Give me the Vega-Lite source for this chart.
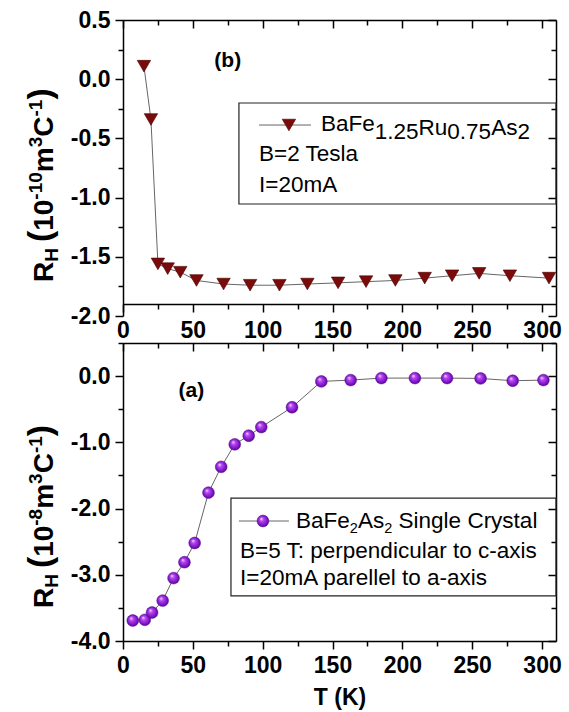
{
  "$schema": "https://vega.github.io/schema/vega-lite/v6.json",
  "background": "white",
  "padding": {"left": 23, "top": 9, "right": 5, "bottom": 5},
  "config": {
    "view": {"stroke": null},
    "font": "Liberation Sans",
    "axis": {
      "grid": false,
      "domainColor": "#000",
      "tickColor": "#000",
      "domainWidth": 1.5,
      "tickWidth": 1.5,
      "labelFont": "Liberation Sans",
      "labelFontWeight": "bold",
      "labelFontSize": 23,
      "labelColor": "#000",
      "labelFlush": false,
      "labelOverlap": false,
      "titleFont": "Liberation Sans",
      "titleColor": "#000"
    }
  },
  "datasets": {
    "top": [
      {"T": 15, "RH": 0.11}, {"T": 20, "RH": -0.34}, {"T": 25, "RH": -1.56}, {"T": 32, "RH": -1.60},
      {"T": 41, "RH": -1.63}, {"T": 52.6, "RH": -1.70}, {"T": 72, "RH": -1.73}, {"T": 91, "RH": -1.74},
      {"T": 112, "RH": -1.74}, {"T": 132, "RH": -1.73}, {"T": 154, "RH": -1.72}, {"T": 174, "RH": -1.71},
      {"T": 195, "RH": -1.70}, {"T": 216, "RH": -1.68}, {"T": 235.6, "RH": -1.66}, {"T": 255, "RH": -1.64},
      {"T": 277, "RH": -1.66}, {"T": 305, "RH": -1.68}
    ],
    "bottom": [
      {"T": 7, "RH": -3.69}, {"T": 15.6, "RH": -3.68}, {"T": 20.8, "RH": -3.57}, {"T": 28.4, "RH": -3.39},
      {"T": 36.2, "RH": -3.05}, {"T": 44, "RH": -2.81}, {"T": 51.3, "RH": -2.52}, {"T": 61.2, "RH": -1.76},
      {"T": 70.3, "RH": -1.37}, {"T": 80, "RH": -1.03}, {"T": 90, "RH": -0.90}, {"T": 99, "RH": -0.77},
      {"T": 121, "RH": -0.47}, {"T": 142, "RH": -0.08}, {"T": 163, "RH": -0.06}, {"T": 185, "RH": -0.03},
      {"T": 209, "RH": -0.03}, {"T": 232, "RH": -0.03}, {"T": 256, "RH": -0.035}, {"T": 279, "RH": -0.07},
      {"T": 301, "RH": -0.06}
    ],
    "topBox": [{"T": 83, "T2": 310, "RH": -0.201, "RH2": -1.054}],
    "topLegLine": [{"T": 97.4, "RH": -0.387}, {"T": 134.6, "RH": -0.387}],
    "topLegSym": [{"T": 118.8, "RH": -0.387}],
    "topLegText": [
      {"label": "BaFe", "T": 141.8, "RH": -0.4375},
      {"label": "1.25", "T": 180.2, "RH": -0.5051},
      {"label": "Ru", "T": 211.5, "RH": -0.4713},
      {"label": "0.75", "T": 232.2, "RH": -0.5051},
      {"label": "As", "T": 263.6, "RH": -0.4713},
      {"label": "2", "T": 282.4, "RH": -0.5051},
      {"label": "B=2 Tesla", "T": 97.4, "RH": -0.691},
      {"label": "I=20mA", "T": 97.4, "RH": -0.950}
    ],
    "topTag": [{"label": "(b)", "T": 75, "RH": 0.15}],
    "topTitleMain": [
      {"label": "R", "T": -50.11, "RH": -1.7128},
      {"label": "10", "T": -50.11, "RH": -1.2804},
      {"label": "m", "T": -50.11, "RH": -0.7855},
      {"label": "C", "T": -50.11, "RH": -0.4856}
    ],
    "topTitleSmall": [
      {"label": "H", "T": -46.54, "RH": -1.5422},
      {"label": "-10", "T": -57.99, "RH": -1.0177},
      {"label": "3", "T": -57.99, "RH": -0.5752},
      {"label": "-1", "T": -57.99, "RH": -0.3150}
    ],
    "topTitleParen": [
      {"label": "(", "T": -51.55, "RH": -1.3758},
      {"label": ")", "T": -51.55, "RH": -0.1723}
    ],
    "botBox": [{"T": 77.3, "T2": 310, "RH": -1.841, "RH2": -3.32}],
    "botLegLine": [{"T": 83.0, "RH": -2.188}, {"T": 118.8, "RH": -2.188}],
    "botLegSym": [{"T": 100.2, "RH": -2.188}],
    "botLegText": [
      {"label": "BaFe", "T": 123.9, "RH": -2.294},
      {"label": "As", "T": 168.2, "RH": -2.294},
      {"label": "Single Crystal", "T": 197.3, "RH": -2.294},
      {"label": "B=5 T: perpendicular to c-axis", "T": 83.8, "RH": -2.747},
      {"label": "I=20mA parellel to a-axis", "T": 83.8, "RH": -3.155}
    ],
    "botLegSub": [
      {"label": "2", "T": 162.4, "RH": -2.369},
      {"label": "2", "T": 187.0, "RH": -2.369}
    ],
    "botTag": [{"label": "(a)", "T": 49, "RH": -0.22}],
    "botTitleMain": [
      {"label": "R", "T": -50.11, "RH": -3.5018},
      {"label": "10", "T": -50.11, "RH": -2.7286},
      {"label": "m", "T": -50.11, "RH": -2.0038},
      {"label": "C", "T": -50.11, "RH": -1.4677}
    ],
    "botTitleSmall": [
      {"label": "H", "T": -46.54, "RH": -3.1968},
      {"label": "-8", "T": -57.99, "RH": -2.2590},
      {"label": "3", "T": -57.99, "RH": -1.6278},
      {"label": "-1", "T": -57.99, "RH": -1.1627}
    ],
    "botTitleParen": [
      {"label": "(", "T": -51.55, "RH": -2.8993},
      {"label": ")", "T": -51.55, "RH": -0.9075}
    ]
  },
  "bounds": "flush",
  "spacing": 27,
  "vconcat": [
    {
      "width": 433,
      "height": 296,
      "resolve": {"axis": {"x": "independent", "y": "independent"}},
      "layer": [
        {
          "data": {"name": "topBox"},
          "mark": {"type": "rect", "filled": false, "color": "#222", "strokeWidth": 1.2},
          "encoding": {
            "x": {"field": "T", "type": "quantitative", "scale": {"domain": [0, 310], "nice": false, "zero": false}, "axis": null},
            "x2": {"field": "T2"},
            "y": {"field": "RH", "type": "quantitative", "scale": {"domain": [-2, 0.5], "nice": false, "zero": false}, "axis": null},
            "y2": {"field": "RH2"}
          }
        },
        {
          "data": {"name": "top"},
          "mark": {"type": "line", "color": "#666", "strokeWidth": 1},
          "encoding": {
            "x": {"field": "T", "type": "quantitative", "scale": {"domain": [0, 310], "nice": false, "zero": false},
              "axis": {"orient": "bottom", "offset": -12, "title": null,
                "values": [0, 25, 50, 75, 100, 125, 150, 175, 200, 225, 250, 275, 300],
                "labelExpr": "datum.value % 50 === 0 ? datum.label : ''",
                "tickSize": {"condition": {"test": "datum.value % 50 === 0", "value": 8}, "value": 5},
                "labelPadding": 7}},
            "y": {"field": "RH", "type": "quantitative", "scale": {"domain": [-2, 0.5], "nice": false, "zero": false},
              "axis": {"orient": "left", "title": null,
                "values": [-2, -1.75, -1.5, -1.25, -1, -0.75, -0.5, -0.25, 0, 0.25, 0.5],
                "labelExpr": "abs(datum.value*2 - round(datum.value*2)) < 0.001 ? replace(format(datum.value, '.1f'), '\u2212', '-') : ''",
                "tickSize": {"condition": {"test": "abs(datum.value*2 - round(datum.value*2)) < 0.001", "value": 8}, "value": 5},
                "labelPadding": 5}}
          }
        },
        {
          "data": {"name": "top"},
          "mark": {"type": "point", "shape": "triangle-down", "filled": true, "fill": "#7b0b0b", "stroke": "#450000", "strokeWidth": 0.6, "size": 180, "opacity": 1},
          "encoding": {
            "x": {"field": "T", "type": "quantitative", "scale": {"domain": [0, 310], "nice": false, "zero": false},
              "axis": {"orient": "top", "title": null, "labels": false,
                "values": [0, 25, 50, 75, 100, 125, 150, 175, 200, 225, 250, 275, 300],
                "tickSize": {"condition": {"test": "datum.value % 50 === 0", "value": -8}, "value": -5}}},
            "y": {"field": "RH", "type": "quantitative", "scale": {"domain": [-2, 0.5], "nice": false, "zero": false},
              "axis": {"orient": "right", "title": null, "labels": false,
                "values": [-2, -1.75, -1.5, -1.25, -1, -0.75, -0.5, -0.25, 0, 0.25, 0.5],
                "tickSize": {"condition": {"test": "abs(datum.value*2 - round(datum.value*2)) < 0.001", "value": -8}, "value": -5}}}
          }
        },
        {
          "data": {"name": "topLegLine"},
          "mark": {"type": "line", "color": "#666", "strokeWidth": 1},
          "encoding": {
            "x": {"field": "T", "type": "quantitative", "axis": null},
            "y": {"field": "RH", "type": "quantitative", "axis": null}
          }
        },
        {
          "data": {"name": "topLegSym"},
          "mark": {"type": "point", "shape": "triangle-down", "filled": true, "fill": "#7b0b0b", "stroke": "#450000", "strokeWidth": 0.6, "size": 180, "opacity": 1},
          "encoding": {
            "x": {"field": "T", "type": "quantitative", "axis": null},
            "y": {"field": "RH", "type": "quantitative", "axis": null}
          }
        },
        {
          "data": {"name": "topLegText"},
          "mark": {"type": "text", "font": "Liberation Sans", "fontSize": 22.5, "align": "left", "baseline": "alphabetic", "color": "#000"},
          "encoding": {
            "x": {"field": "T", "type": "quantitative", "axis": null},
            "y": {"field": "RH", "type": "quantitative", "axis": null},
            "text": {"field": "label"}
          }
        },
        {
          "data": {"name": "topTag"},
          "mark": {"type": "text", "font": "Liberation Sans", "fontSize": 21, "fontWeight": "bold", "align": "center", "baseline": "middle", "color": "#000"},
          "encoding": {
            "x": {"field": "T", "type": "quantitative", "axis": null},
            "y": {"field": "RH", "type": "quantitative", "axis": null},
            "text": {"field": "label"}
          }
        },
        {
          "data": {"name": "topTitleMain"},
          "mark": {"type": "text", "font": "Liberation Sans", "fontSize": 28, "fontWeight": "bold", "angle": 270, "align": "left", "baseline": "alphabetic", "color": "#000"},
          "encoding": {
            "x": {"field": "T", "type": "quantitative", "axis": null},
            "y": {"field": "RH", "type": "quantitative", "axis": null},
            "text": {"field": "label"}
          }
        },
        {
          "data": {"name": "topTitleSmall"},
          "mark": {"type": "text", "font": "Liberation Sans", "fontSize": 19, "fontWeight": "bold", "angle": 270, "align": "left", "baseline": "alphabetic", "color": "#000"},
          "encoding": {
            "x": {"field": "T", "type": "quantitative", "axis": null},
            "y": {"field": "RH", "type": "quantitative", "axis": null},
            "text": {"field": "label"}
          }
        },
        {
          "data": {"name": "topTitleParen"},
          "mark": {"type": "text", "font": "Liberation Sans", "fontSize": 34, "fontWeight": "bold", "angle": 270, "align": "left", "baseline": "alphabetic", "color": "#000"},
          "encoding": {
            "x": {"field": "T", "type": "quantitative", "axis": null},
            "y": {"field": "RH", "type": "quantitative", "axis": null},
            "text": {"field": "label"}
          }
        }
      ]
    },
    {
      "width": 433,
      "height": 298,
      "resolve": {"axis": {"x": "independent", "y": "independent"}},
      "layer": [
        {
          "data": {"name": "botBox"},
          "mark": {"type": "rect", "filled": false, "color": "#222", "strokeWidth": 1.2},
          "encoding": {
            "x": {"field": "T", "type": "quantitative", "scale": {"domain": [0, 310], "nice": false, "zero": false}, "axis": null},
            "x2": {"field": "T2"},
            "y": {"field": "RH", "type": "quantitative", "scale": {"domain": [-4, 0.5], "nice": false, "zero": false}, "axis": null},
            "y2": {"field": "RH2"}
          }
        },
        {
          "data": {"name": "bottom"},
          "mark": {"type": "line", "color": "#666", "strokeWidth": 1},
          "encoding": {
            "x": {"field": "T", "type": "quantitative", "scale": {"domain": [0, 310], "nice": false, "zero": false},
              "axis": {"orient": "bottom", "title": "T (K)", "titleFontSize": 23, "titleFontWeight": "bold", "titlePadding": 9,
                "values": [0, 25, 50, 75, 100, 125, 150, 175, 200, 225, 250, 275, 300],
                "labelExpr": "datum.value % 50 === 0 ? datum.label : ''",
                "tickSize": {"condition": {"test": "datum.value % 50 === 0", "value": 8}, "value": 5},
                "labelPadding": 5}},
            "y": {"field": "RH", "type": "quantitative", "scale": {"domain": [-4, 0.5], "nice": false, "zero": false},
              "axis": {"orient": "left", "title": null,
                "values": [-4, -3.5, -3, -2.5, -2, -1.5, -1, -0.5, 0, 0.5],
                "labelExpr": "datum.value % 1 === 0 ? replace(format(datum.value, '.1f'), '\u2212', '-') : ''",
                "tickSize": {"condition": {"test": "datum.value % 1 === 0", "value": 8}, "value": 5},
                "labelPadding": 5}}
          }
        },
        {
          "data": {"name": "bottom"},
          "mark": {"type": "point", "shape": "circle", "filled": true, "size": 140, "opacity": 1, "stroke": "#50108a", "strokeWidth": 0.5,
            "fill": {"gradient": "radial", "x1": 0.35, "y1": 0.3, "r1": 0, "x2": 0.5, "y2": 0.5, "r2": 0.55,
              "stops": [{"offset": 0, "color": "#f6e6ff"}, {"offset": 0.3, "color": "#b548f0"}, {"offset": 0.75, "color": "#7c12c6"}, {"offset": 1, "color": "#4e0082"}]}},
          "encoding": {
            "x": {"field": "T", "type": "quantitative", "scale": {"domain": [0, 310], "nice": false, "zero": false},
              "axis": {"orient": "top", "title": null, "labels": false,
                "values": [0, 25, 50, 75, 100, 125, 150, 175, 200, 225, 250, 275, 300],
                "tickSize": {"condition": {"test": "datum.value % 50 === 0", "value": -8}, "value": -5}}},
            "y": {"field": "RH", "type": "quantitative", "scale": {"domain": [-4, 0.5], "nice": false, "zero": false},
              "axis": {"orient": "right", "title": null, "labels": false,
                "values": [-4, -3.5, -3, -2.5, -2, -1.5, -1, -0.5, 0, 0.5],
                "tickSize": {"condition": {"test": "datum.value % 1 === 0", "value": -8}, "value": -5}}}
          }
        },
        {
          "data": {"name": "botLegLine"},
          "mark": {"type": "line", "color": "#666", "strokeWidth": 1},
          "encoding": {
            "x": {"field": "T", "type": "quantitative", "axis": null},
            "y": {"field": "RH", "type": "quantitative", "axis": null}
          }
        },
        {
          "data": {"name": "botLegSym"},
          "mark": {"type": "point", "shape": "circle", "filled": true, "size": 140, "opacity": 1, "stroke": "#50108a", "strokeWidth": 0.5,
            "fill": {"gradient": "radial", "x1": 0.35, "y1": 0.3, "r1": 0, "x2": 0.5, "y2": 0.5, "r2": 0.55,
              "stops": [{"offset": 0, "color": "#f6e6ff"}, {"offset": 0.3, "color": "#b548f0"}, {"offset": 0.75, "color": "#7c12c6"}, {"offset": 1, "color": "#4e0082"}]}},
          "encoding": {
            "x": {"field": "T", "type": "quantitative", "axis": null},
            "y": {"field": "RH", "type": "quantitative", "axis": null}
          }
        },
        {
          "data": {"name": "botLegText"},
          "mark": {"type": "text", "font": "Liberation Sans", "fontSize": 22.5, "align": "left", "baseline": "alphabetic", "color": "#000"},
          "encoding": {
            "x": {"field": "T", "type": "quantitative", "axis": null},
            "y": {"field": "RH", "type": "quantitative", "axis": null},
            "text": {"field": "label"}
          }
        },
        {
          "data": {"name": "botLegSub"},
          "mark": {"type": "text", "font": "Liberation Sans", "fontSize": 14.5, "align": "left", "baseline": "alphabetic", "color": "#000"},
          "encoding": {
            "x": {"field": "T", "type": "quantitative", "axis": null},
            "y": {"field": "RH", "type": "quantitative", "axis": null},
            "text": {"field": "label"}
          }
        },
        {
          "data": {"name": "botTag"},
          "mark": {"type": "text", "font": "Liberation Sans", "fontSize": 21, "fontWeight": "bold", "align": "center", "baseline": "middle", "color": "#000"},
          "encoding": {
            "x": {"field": "T", "type": "quantitative", "axis": null},
            "y": {"field": "RH", "type": "quantitative", "axis": null},
            "text": {"field": "label"}
          }
        },
        {
          "data": {"name": "botTitleMain"},
          "mark": {"type": "text", "font": "Liberation Sans", "fontSize": 28, "fontWeight": "bold", "angle": 270, "align": "left", "baseline": "alphabetic", "color": "#000"},
          "encoding": {
            "x": {"field": "T", "type": "quantitative", "axis": null},
            "y": {"field": "RH", "type": "quantitative", "axis": null},
            "text": {"field": "label"}
          }
        },
        {
          "data": {"name": "botTitleSmall"},
          "mark": {"type": "text", "font": "Liberation Sans", "fontSize": 19, "fontWeight": "bold", "angle": 270, "align": "left", "baseline": "alphabetic", "color": "#000"},
          "encoding": {
            "x": {"field": "T", "type": "quantitative", "axis": null},
            "y": {"field": "RH", "type": "quantitative", "axis": null},
            "text": {"field": "label"}
          }
        },
        {
          "data": {"name": "botTitleParen"},
          "mark": {"type": "text", "font": "Liberation Sans", "fontSize": 34, "fontWeight": "bold", "angle": 270, "align": "left", "baseline": "alphabetic", "color": "#000"},
          "encoding": {
            "x": {"field": "T", "type": "quantitative", "axis": null},
            "y": {"field": "RH", "type": "quantitative", "axis": null},
            "text": {"field": "label"}
          }
        }
      ]
    }
  ]
}
